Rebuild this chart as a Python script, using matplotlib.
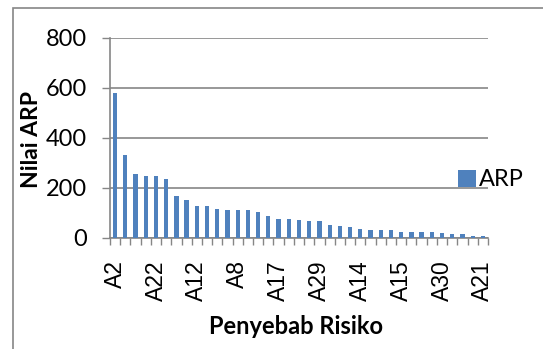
import matplotlib.pyplot as plt
from matplotlib.patches import Rectangle
import numpy as np

# nilai ARP per penyebab risiko (diurutkan dari terbesar)
arp = [579, 331, 256, 248, 246, 235, 167, 151, 127, 127, 117, 112, 110, 110,
       104, 88, 77, 77, 72, 68, 68, 50, 48, 42, 36, 33, 32, 32, 25, 25, 24,
       24, 19, 15, 15, 8, 8]
# label yang tampil di sumbu x (setiap 4 kategori)
shown_labels = ["A2", "A22", "A12", "A8", "A17", "A29", "A14", "A15", "A30", "A21"]
y_ticks = [0, 200, 400, 600, 800]

plt.rcParams['font.family'] = ['Lato', 'DejaVu Sans']
grey = '#868686'

fig = plt.figure(figsize=(5.43, 3.49), dpi=100)
ax = fig.add_axes([110 / 543, 1 - 238 / 349, 378 / 543, 200.5 / 349])

x = np.arange(len(arp))
ax.bar(x, arp, width=0.42, color='#4F81BD', label='ARP', zorder=3)

ax.set_xlim(-0.5, len(arp) - 0.5)
ax.set_ylim(0, 800)
ax.set_yticks(y_ticks)
ax.tick_params(axis='y', labelsize=17, length=5.5, color=grey, width=1, pad=11)
ax.yaxis.grid(True, color=grey, linewidth=1.2, zorder=0)

ax.set_xticks(x[::4])
ax.set_xticklabels(shown_labels, rotation=90, fontsize=16.5,
                   family=['Liberation Sans', 'DejaVu Sans'])
ax.set_xticks(np.arange(len(arp) + 1) - 0.5, minor=True)
ax.tick_params(axis='x', which='major', length=0, pad=16)
ax.tick_params(axis='x', which='minor', length=5, color=grey, width=1)

for side in ['top', 'right']:
    ax.spines[side].set_visible(False)
for side in ['left', 'bottom']:
    ax.spines[side].set_color(grey)
    ax.spines[side].set_linewidth(1.2)

fig.text(31 / 543, 1 - 139 / 349, 'Nilai ARP', rotation=90, fontsize=16.5,
         fontweight='bold', ha='center', va='center')
fig.text(296 / 543, 1 - 326 / 349, 'Penyebab Risiko', fontsize=17,
         fontweight='bold', ha='center', va='center')

ax.legend(loc='center left', bbox_to_anchor=(458 / 543, 1 - 180 / 349),
          bbox_transform=fig.transFigure, frameon=False, fontsize=17,
          handlelength=0.75, handleheight=0.75, handletextpad=0.15,
          borderpad=0, borderaxespad=0)

fig.patches.append(Rectangle((12.5 / 543, -0.1), 1.2, 1 - 8.5 / 349 + 0.1,
                             transform=fig.transFigure, fill=False,
                             edgecolor=grey, linewidth=1.2))

fig.savefig('out.png', dpi=100)
